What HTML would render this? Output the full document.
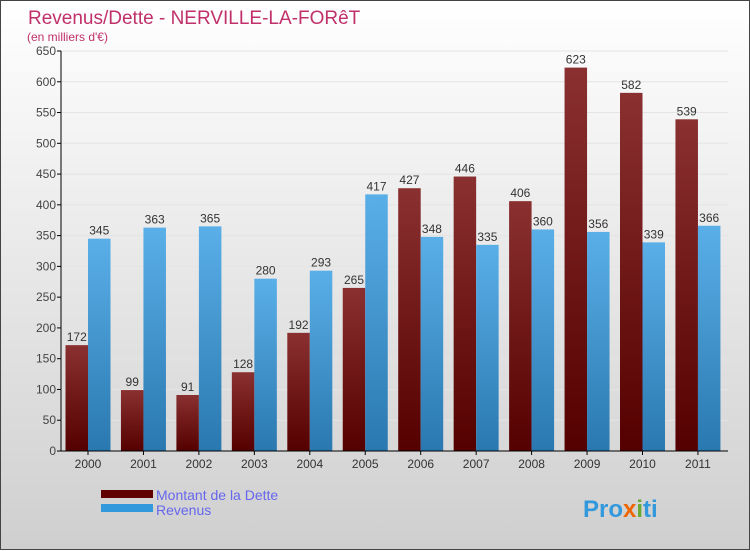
<!DOCTYPE html>
<html><head><meta charset="utf-8"><style>
body{margin:0;width:750px;height:550px;overflow:hidden;font-family:"Liberation Sans","DejaVu Sans",sans-serif}
#wrap{position:relative;width:748px;height:548px;border:1px solid #444;background:linear-gradient(#ffffff,#cfcfcf)}
svg{position:absolute;left:0;top:0}
</style></head><body>
<div id="wrap">
<svg id="chart" width="750" height="550">
<defs>
<linearGradient id="gd" x1="0" y1="0" x2="0" y2="1"><stop offset="0" stop-color="#8a3030"/><stop offset="1" stop-color="#550000"/></linearGradient>
<linearGradient id="gr" x1="0" y1="0" x2="0" y2="1"><stop offset="0" stop-color="#5aafe8"/><stop offset="1" stop-color="#2a78b0"/></linearGradient>
</defs>
<text x="27" y="23" font-size="19" fill="#c0306a">Revenus/Dette - NERVILLE-LA-FORêT</text>
<text x="26" y="40" font-size="12" fill="#c0306a">(en milliers d'€)</text>
<g id="plot"></g>
<rect x="100" y="489" width="52" height="8" fill="#600000"/>
<text x="155" y="499" font-size="14" fill="#6666ee">Montant de la Dette</text>
<rect x="100" y="503" width="52" height="8" fill="#3399dd"/>
<text x="155" y="514" font-size="14" fill="#6666ee">Revenus</text>
<text x="582" y="516" font-size="24" font-weight="bold" fill="#3399dd">Pro<tspan fill="#ee6600">x</tspan><tspan fill="#66aa33">i</tspan>ti</text>
</svg></div>
<script>
const years=["2000","2001","2002","2003","2004","2005","2006","2007","2008","2009","2010","2011"];
const dette=[172,99,91,128,192,265,427,446,406,623,582,539];
const revenus=[345,363,365,280,293,417,348,335,360,356,339,366];
const yTicks=[0,50,100,150,200,250,300,350,400,450,500,550,600,650];
const NS="http://www.w3.org/2000/svg";
const g=document.getElementById('plot');
const y0=450,yMax=650,ph=400,x0=60,step=55.45,bw=22.5;
const y=v=>y0-v/yMax*ph;
function mk(t,a){const e=document.createElementNS(NS,t);for(const k in a)e.setAttribute(k,a[k]);g.appendChild(e);return e;}
yTicks.forEach(v=>{
 const l=mk('line',{x1:x0,x2:727,y1:y(v),y2:y(v),stroke:'#e4e4e4','stroke-width':1});
 
 
 mk('line',{x1:x0-4,x2:x0,y1:y(v),y2:y(v),stroke:'#000'});
 const t=mk('text',{x:x0-5,y:y(v)+4,'text-anchor':'end','font-size':12,fill:'#444'});t.textContent=v;
 
 
});
years.forEach((yr,i)=>{
 const c=x0+27+i*step;
 const b1=mk('rect',{x:c-bw,y:y(dette[i]),width:bw,height:y0-y(dette[i]),fill:'url(#gd)'});
 
 
 const b2=mk('rect',{x:c,y:y(revenus[i]),width:bw,height:y0-y(revenus[i]),fill:'url(#gr)'});
 
 
 const t1=mk('text',{x:c-bw/2,y:y(dette[i])-4,'text-anchor':'middle','font-size':12,fill:'#333'});t1.textContent=dette[i];
 
 
 const t2=mk('text',{x:c+bw/2,y:y(revenus[i])-4,'text-anchor':'middle','font-size':12,fill:'#333'});t2.textContent=revenus[i];
 
 
 mk('line',{x1:c,x2:c,y1:y0,y2:y0+4,stroke:'#000'});
 const xt=mk('text',{x:c,y:y0+17,'text-anchor':'middle','font-size':12,fill:'#333'});xt.textContent=yr;
 
 
});
mk('line',{x1:x0,x2:x0,y1:y(650),y2:y0,stroke:'#000'});
mk('line',{x1:x0,x2:727,y1:y0,y2:y0,stroke:'#000'});
</script>
</body></html>
